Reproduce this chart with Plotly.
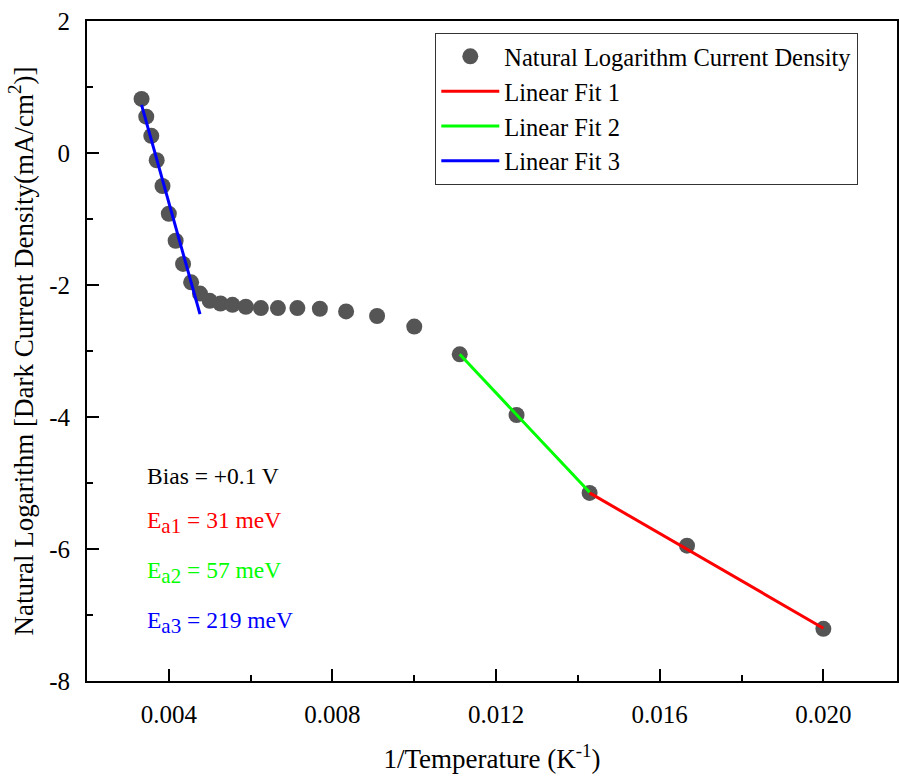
import plotly.graph_objects as go

# ---- data ----
temperature_K = [300, 290, 280, 270, 260, 250, 240, 230, 220, 210, 200, 190, 180,
                 170, 160, 150, 140, 130, 120, 110, 100, 90, 80, 70, 60, 50]
ln_current_density = [0.82, 0.55, 0.26, -0.11, -0.50, -0.92, -1.33, -1.68, -1.96,
                      -2.13, -2.24, -2.28, -2.30, -2.33, -2.35, -2.35, -2.35, -2.36,
                      -2.40, -2.47, -2.63, -3.05, -3.97, -5.15, -5.95, -7.21]

fit1_T = [70, 50]
fit1_y = [-5.15, -7.20]
fit2_T = [90, 70]
fit2_y = [-3.05, -5.14]
fit3_T = [300, 210]
fit3_y = [0.73, -2.44]

x_tickvals = [0.004, 0.008, 0.012, 0.016, 0.020]
x_ticktext = ["0.004", "0.008", "0.012", "0.016", "0.020"]
y_tickvals = [-8, -6, -4, -2, 0, 2]
y_ticktext = ["-8", "-6", "-4", "-2", "0", "2"]

SUB = '<sub><span style="font-size:21px">{}</span></sub>'
notes = ["Bias = +0.1 V",
         "E" + SUB.format("a1") + " = 31 meV",
         "E" + SUB.format("a2") + " = 57 meV",
         "E" + SUB.format("a3") + " = 219 meV"]
note_colors = ["#000000", "#FF0000", "#00FF00", "#0000FF"]
note_y = [-4.9, -5.6, -6.36, -7.12]

inv = lambda T: [1.0 / t for t in T]

FONT = "Liberation Serif, Times New Roman, serif"

fig = go.Figure()
fig.add_trace(go.Scatter(
    x=inv(temperature_K), y=ln_current_density, mode="markers",
    name="Natural Logarithm Current Density",
    marker=dict(color="#555555", size=16, line=dict(width=0)),
))
fig.add_trace(go.Scatter(x=inv(fit1_T), y=fit1_y, mode="lines", name="Linear Fit 1",
                         line=dict(color="#FF0000", width=3)))
fig.add_trace(go.Scatter(x=inv(fit2_T), y=fit2_y, mode="lines", name="Linear Fit 2",
                         line=dict(color="#00FF00", width=3)))
fig.add_trace(go.Scatter(x=inv(fit3_T), y=fit3_y, mode="lines", name="Linear Fit 3",
                         line=dict(color="#0000FF", width=3)))

for txt, col, yy in zip(notes, note_colors, note_y):
    fig.add_annotation(x=0.00342, y=yy, xref="x", yref="y", text=txt, showarrow=False,
                       xanchor="left", yanchor="middle",
                       font=dict(family=FONT, size=23.5, color=col))

fig.update_layout(
    width=899, height=776,
    margin=dict(l=87, r=0, t=21, b=95),
    paper_bgcolor="white", plot_bgcolor="white",
    font=dict(family=FONT, color="black"),
    showlegend=True,
    legend=dict(x=0.43, y=0.982, xanchor="left", yanchor="top",
                bgcolor="white", bordercolor="#333333", borderwidth=1,
                font=dict(family=FONT, size=24.5, color="black"),
                tracegroupgap=0, itemwidth=58),
)
fig.update_xaxes(
    range=[0.002, 0.0218], showgrid=False, zeroline=False,
    showline=True, linecolor="black", linewidth=2, mirror=True,
    ticks="inside", ticklen=12, tickwidth=2, tickcolor="black",
    tickvals=x_tickvals, ticktext=x_ticktext, ticklabelstandoff=10,
    tickfont=dict(family=FONT, size=25, color="black"),
    minor=dict(ticks="inside", ticklen=6, tickwidth=2, tickcolor="black", dtick=0.002, tick0=0.002),
    title=dict(text="1/Temperature (K<sup>-1</sup>)", font=dict(family=FONT, size=27, color="black"),
               standoff=22),
)
fig.update_yaxes(
    range=[-8, 2], showgrid=False, zeroline=False,
    showline=True, linecolor="black", linewidth=2, mirror=True,
    ticks="inside", ticklen=12, tickwidth=2, tickcolor="black",
    tickvals=y_tickvals, ticktext=y_ticktext, ticklabelstandoff=10,
    tickfont=dict(family=FONT, size=25, color="black"),
    minor=dict(ticks="inside", ticklen=6, tickwidth=2, tickcolor="black", dtick=1, tick0=0),
    title=dict(text="Natural Logarithm [Dark Current Density(mA/cm<sup>2</sup>)]",
               font=dict(family=FONT, size=27, color="black"), standoff=8),
)

fig.write_html("out.html")
